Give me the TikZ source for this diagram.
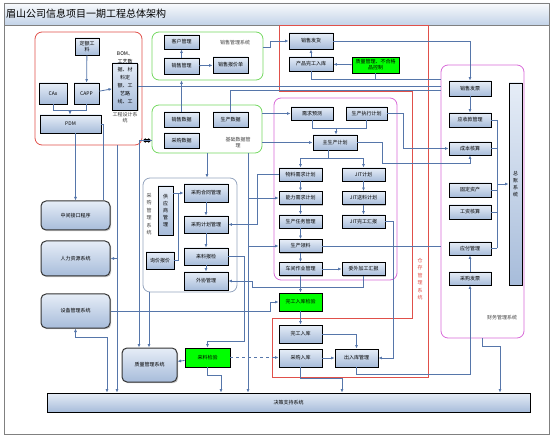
\documentclass[tikz,border=0pt]{standalone}
\usepackage{fontspec}
\setmainfont{Noto Sans CJK SC}
\usetikzlibrary{arrows.meta,shadows}

\definecolor{boxtop}{HTML}{E6EDF7}
\definecolor{boxblue}{HTML}{A7BCDA}
\definecolor{linkblue}{HTML}{5676AA}
\definecolor{grpred}{HTML}{E0504A}
\definecolor{grpgreen}{HTML}{74D860}
\definecolor{grpmag}{HTML}{D86AD8}
\definecolor{grpgray}{HTML}{94A4BE}
\definecolor{titlebar}{HTML}{C3D3E8}
\newcommand\fs{\fontsize{5}{6}\selectfont}

\tikzset{
  cell/.style={draw=black, line width=0.9pt, font=\fs, inner sep=0.5pt, align=center,
    minimum width=43pt, minimum height=14pt,
    general shadow={fill=gray!45, shadow xshift=1.2pt, shadow yshift=-1.2pt}},
  mod/.style={cell, top color=boxtop, bottom color=boxblue},
  chk/.style={cell, fill=green},
  sys/.style={mod, rounded corners=5pt, line width=1pt, draw=black!80},
  grp/.style={draw=#1, line width=0.8pt, rounded corners=7pt, inner sep=0pt},
  lbl/.style={font=\fs, text=black!75, align=center, inner sep=0pt},
  line/.style={draw=linkblue, line width=0.8pt},
  link/.style={line, -{Latex[length=3.5pt,width=3pt]}},
}

\begin{document}
\begin{tikzpicture}[x=1pt,y=-1pt]
\useasboundingbox (0,0) rectangle (554,438);
\shade[top color=white!90!titlebar, bottom color=titlebar] (4,3) rectangle (549,25);
\draw[black!50, line width=0.8pt] (4,3) rectangle (549,434);
\draw[black!50, line width=0.6pt] (4,25) -- (549,25);
\node[anchor=west, font=\fontsize{10}{12}\selectfont, inner sep=0pt] (title) at (6,14) {眉山公司信息项目一期工程总体架构};

% groups
\node[grp=grpred, minimum width=107pt, minimum height=113pt] (gcad) at (88.5,88.5) {};
\node[grp=grpgreen, minimum width=111pt, minimum height=48pt] (gsale) at (207.5,56) {};
\node[grp=grpgreen, minimum width=110pt, minimum height=48pt] (gbase) at (207,129) {};
\node[grp=grpmag, minimum width=123pt, minimum height=182pt] (gprod) at (335.5,189) {};
\node[grp=grpgray, minimum width=94pt, minimum height=114pt] (gbuy) at (190,235) {};
\node[grp=grpmag, minimum width=83pt, minimum height=273pt] (gfin) at (482.5,201.5) {};
\draw[grpred, line width=0.8pt] (279,25) -- (428,25) -- (428,377) -- (272,377) -- (272,318)
  -- (412,318) -- (412,91) -- (279,91) -- cycle;

% engineering design
\node[mod, minimum width=24pt, minimum height=17pt] (dego) at (87,46.5) {定额工\\料};
\node[mod, minimum width=28pt, minimum height=21pt] (cax) at (53,93.5) {CAx};
\node[mod, minimum width=25pt, minimum height=21pt] (capp) at (86.5,93.5) {CAPP};
\node[mod, minimum width=25pt, minimum height=47pt] (bom) at (125,86.5) {};
\node[lbl, anchor=north, font=\fontsize{5}{8}\selectfont, text=black] (bomtxt) at (125,52) {BOM、\\工艺数\\据、材\\料定\\额、工\\艺路\\线、工};
\node[mod, minimum width=61pt, minimum height=18pt] (pdm) at (70.5,124) {PDM};
\node[lbl] (cadlbl) at (125,118) {工程设计系\\统};

% sales
\node[mod, minimum width=35pt] (khgl) at (181.5,42) {客户管理};
\node[mod, minimum width=35pt, minimum height=16pt] (xsgl) at (181.5,66) {销售管理};
\node[mod, minimum width=35pt, minimum height=16pt] (bjd) at (230.5,65) {销售报价单};
\node[lbl] (salelbl) at (235,43) {销售管理系统};

% base data
\node[mod, minimum width=35pt, minimum height=15pt] (xssj) at (181.5,119.5) {销售数据};
\node[mod, minimum width=35pt, minimum height=15pt] (scsj) at (230.5,119.5) {生产数据};
\node[mod, minimum width=35pt, minimum height=15pt] (cgsj) at (181.5,140.5) {采购数据};
\node[lbl] (baselbl) at (238,143) {基础数据管\\理};

% quality, delivery
\node[mod, minimum width=44pt, minimum height=16pt] (xsfh) at (311,41) {销售发货};
\node[mod, minimum width=44pt] (cpwg) at (311,64) {产品完工入库};
\node[chk, minimum width=47pt, minimum height=16pt] (zljy) at (375.5,65) {质量管理、不合格\\品控制};

% production
\node[mod, minimum width=42pt, minimum height=13pt] (xqyc) at (312,113.5) {需求预测};
\node[mod, minimum width=41pt, minimum height=13pt] (sczx) at (366.5,113.5) {生产执行计划};
\node[mod, minimum width=44pt, minimum height=15pt] (zsc) at (335,142.5) {主生产计划};
\node[mod, minimum height=13pt] (wlxq) at (300.5,174.5) {物料需求计划};
\node[mod, minimum height=13pt] (jit) at (363.5,174.5) {JIT计划};
\node[mod, minimum height=13pt] (nlxq) at (300.5,198) {能力需求计划};
\node[mod, minimum height=13pt] (jitsl) at (363.5,198) {JIT送料计划};
\node[mod, minimum height=13pt] (scrw) at (300.5,221.5) {生产任务管理};
\node[mod, minimum height=13pt] (jitwg) at (363.5,221.5) {JIT完工汇报};
\node[mod, minimum height=13pt] (scll) at (300.5,246) {生产领料};
\node[mod, minimum height=13pt] (cjzy) at (300.5,269) {车间作业管理};
\node[mod, minimum height=13pt] (wwjg) at (363.5,269) {委外加工汇报};

% store
\node[chk, minimum height=18pt] (wgjy) at (300.5,302) {完工入库检验};
\node[mod, minimum height=18pt] (wgrk) at (300.5,334) {完工入库};
\node[mod, minimum height=18pt] (cgrk) at (300.5,358) {采购入库};
\node[mod, minimum height=18pt] (crk) at (356.5,358) {出入库管理};
\node[lbl, text=grpred, font=\fontsize{5}{7.5}\selectfont] (storelbl) at (420,279) {仓\\存\\管\\理\\系\\统};

% purchasing
\node[mod, minimum width=44pt, minimum height=18pt] (cght) at (206,193) {采购合同管理};
\node[mod, minimum width=44pt, minimum height=17pt] (cgjh) at (206,224.5) {采购计划管理};
\node[mod, minimum width=44pt, minimum height=17pt] (llbj) at (206,256.5) {来料报检};
\node[mod, minimum width=44pt, minimum height=18pt] (wxgl) at (206,281) {外协管理};
\node[mod, minimum width=15pt, minimum height=49pt, font=\fontsize{5}{7}\selectfont] (gys) at (165.5,210.5) {供\\应\\商\\管\\理};
\node[mod, minimum width=28pt, minimum height=17pt] (xjbj) at (160,260.5) {询价报价};
\node[lbl, font=\fontsize{5}{7.5}\selectfont] (buylbl) at (149,214) {采\\购\\管\\理\\系\\统};

% other systems
\node[sys, minimum width=69pt, minimum height=29pt] (zjjk) at (75.5,215.5) {中间接口程序};
\node[sys, minimum width=69pt, minimum height=35pt] (rlzy) at (75.5,258.5) {人力资源系统};
\node[sys, minimum width=69pt, minimum height=34pt] (sbgl) at (75.5,311) {设备管理系统};
\node[sys, minimum width=55pt, minimum height=34pt] (zlgl) at (149.5,365) {质量管理系统};
\node[chk, minimum width=45pt, minimum height=19pt] (zxjy) at (207.5,357.5) {来料检验};
\node[mod, minimum width=483pt, minimum height=19pt] (bar) at (288.5,402.5) {决策支持系统};

% finance
\node[mod, minimum width=42pt, minimum height=15pt] (xsfp) at (470,88.5) {销售发票};
\node[mod, minimum width=42pt] (yszk) at (470,120) {应收款管理};
\node[mod, minimum width=42pt, minimum height=13pt] (cbhs) at (470,148.5) {成本核算};
\node[mod, minimum width=42pt] (gdzc) at (470,190) {固定资产};
\node[mod, minimum width=42pt] (gzhs) at (470,212) {工资核算};
\node[mod, minimum width=42pt, minimum height=13pt] (yfgl) at (470,248.5) {应付管理};
\node[mod, minimum width=42pt, minimum height=13pt] (cgfp) at (470,278.5) {采购发票};
\node[mod, minimum width=13pt, minimum height=202pt, font=\fontsize{5}{7}\selectfont] (zz) at (515.5,184) {总\\账\\系\\统};
\node[lbl] (finlbl) at (502,318) {财务管理系统};

% engineering links
\draw[link] (dego) -- (capp);
\draw[link] (capp) -- (bom);
\coordinate (cadj) at (70,110);
\draw[line] (cax.south) |- (cadj);
\draw[line] (capp.south) |- (cadj);
\draw[link] (cadj) -- (cadj |- pdm.north);
\draw[link] (zjjk.north |- pdm.south) -- (zjjk.north);
\coordinate (pdmj) at (103,124);
\draw[line] (pdm.east) -- (pdmj) -- (pdmj |- zjjk.north);
\draw[double=white, double distance=1.2pt, line width=0.5pt, {Implies}-{Implies}] (gcad.east |- cgsj) -- (gbase.west |- cgsj);
\coordinate (cadx) at (117,0);
\draw[link] (gcad.south -| cadx) -- (cadx |- bar.north);
\draw[link] (cadx |- rlzy.east) -- (rlzy.east);
\coordinate (sbj) at (107,337);
\draw[line, {Latex[length=3.5pt,width=3pt]}-{Latex[length=3.5pt,width=3pt]}] (sbgl.south) |- (sbj) -- (sbj |- bar.north);
\draw[link] (sbgl.east) -- ++(160,0) |- (wgjy.west);

% sales and base data
\draw[line] (bom.east) -- (bom.east -| gfin.west);
\draw[link] (xssj.north) -- (xssj.north |- gsale.south);
\coordinate (fin90) at (441,90);
\draw[line] (scsj.north) |- (fin90);
\draw[link] (xsgl) -- (khgl);
\draw[link] (xsgl) -- (bjd);
\coordinate (salej) at (270,47);
\draw[link] (gsale.east |- salej) -- (salej) |- (xsfh.west);
\draw[link] (cpwg) -- (xsfh);
\draw[link] (zljy) -- (cpwg);
\coordinate (fin79) at (441,79);
\draw[line] (cpwg.south) |- (fin79);
\draw[line] (zljy.south) -- (zljy.south |- fin79);
\coordinate (fhj) at (470,41);
\draw[link] (xsfh.east) -- (fhj) -- (xsfp.north);
\draw[link] (gbase.south) -- (gbase.south |- gbuy.north);
\draw[link] (gbase.east |- xqyc) -- (xqyc.west);
\draw[link] (gbase.east |- zsc) -- (zsc.west);

% finance links
\draw[link] (xsfp) -- (yszk);
\coordinate (finbus) at (497,0);
\foreach \m in {yszk,cbhs,gdzc,gzhs,yfgl}
  \draw[line] (\m.east) -- (\m.east -| finbus);
\draw[line] (finbus |- yszk.east) -- (finbus |- yfgl.east);
\draw[link] (finbus |- zz.west) -- (zz.west);
\draw[link] (cgfp) -- (yfgl);
\draw[link] (sczx.east) -- ++(16,0) |- (cbhs.west);
\coordinate (cbj) at (470,163);
\draw[link] (zsc.east) -- ++(25,0) |- (cbj) -- (cbhs.south);
\draw[line] (scll.east) -- (scll.east -| gfin.west);
\coordinate (finj) at (500,346);
\draw[link] (gfin.south) |- (finj) -- (finj |- bar.north);

% purchasing links
\draw[link] (cght) -- (cgjh);
\draw[link] (cgjh) -- (llbj);
\draw[link] (llbj) -- (wxgl);
\draw[link] (gys.east |- cght) -- (cght.west);
\coordinate (buyj) at (178,193);
\draw[line] (xjbj.east) -| (buyj);

% production links
\coordinate (fcj) at (336,128);
\draw[line] (xqyc.south) |- (fcj);
\draw[line] (sczx.south) |- (fcj);
\draw[link] (fcj) -- (fcj |- zsc.north);
\coordinate (mpj) at (328,158);
\draw[line] (zsc.south -| mpj) -- (mpj);
\draw[link] (mpj) -| (wlxq.north);
\draw[link] (mpj) -| (jit.north);
\draw[link] (wlxq) -- (nlxq);
\draw[link] (nlxq) -- (scrw);
\draw[link] (scrw) -- (scll);
\draw[link] (scll) -- (cjzy);
\draw[link] (jit) -- (jitsl);
\draw[link] (jitsl) -- (jitwg);
\draw[link] (cjzy) -- (wwjg);
\draw[link] (cjzy) -- (wgjy);
\draw[link] (wgjy) -- (wgrk);
\draw[link] (cgrk) -- (crk);
\draw[link] (wgrk.east) -| (crk.north);
\draw[link] (jitwg.east) -- ++(8,0) |- (crk.east);
\coordinate (ivj) at (470,374);
\draw[link] (crk.south) |- (ivj) -- (cgfp.south);
\draw[link] (wlxq.west) -- ++(-21,0) |- (cgjh.east);
\coordinate (wxj) at (252,287);
\draw[link] (wwjg.south) |- (wxj) |- (wxgl.east);
\coordinate (x248) at (248,0);
\draw[link] (gbase.south -| x248) -- (x248 |- bar.north);
\draw[link] (x248 |- nlxq.west) -- (nlxq.west);
\draw[link] (x248 |- scll.west) -- (scll.west);

% quality links
\coordinate (qj) at (207.5,341);
\draw[link] (llbj.east) -- ++(16,0) |- (qj) -- (zxjy.north);
\draw[link] (zxjy) -- (zlgl);
\draw[link, dashed] (zxjy.east) -- (zxjy.east -| cgrk.west);
\coordinate (zxj) at (221,375);
\draw[link] (zxjy.south) |- (zxj) -- (zxj |- bar.north);
\coordinate (zlb) at (149,0);
\draw[link] (gbuy.south -| zlb) -- (zlb |- zlgl.north);
\draw[link] (gbase.west |- cgsj) -| ([xshift=-10.5pt]zlgl.north);
\coordinate (crj) at (342,378);
\draw[link] (cgrk.south) |- (crj) -- (crj |- bar.north);
\end{tikzpicture}
\end{document}
